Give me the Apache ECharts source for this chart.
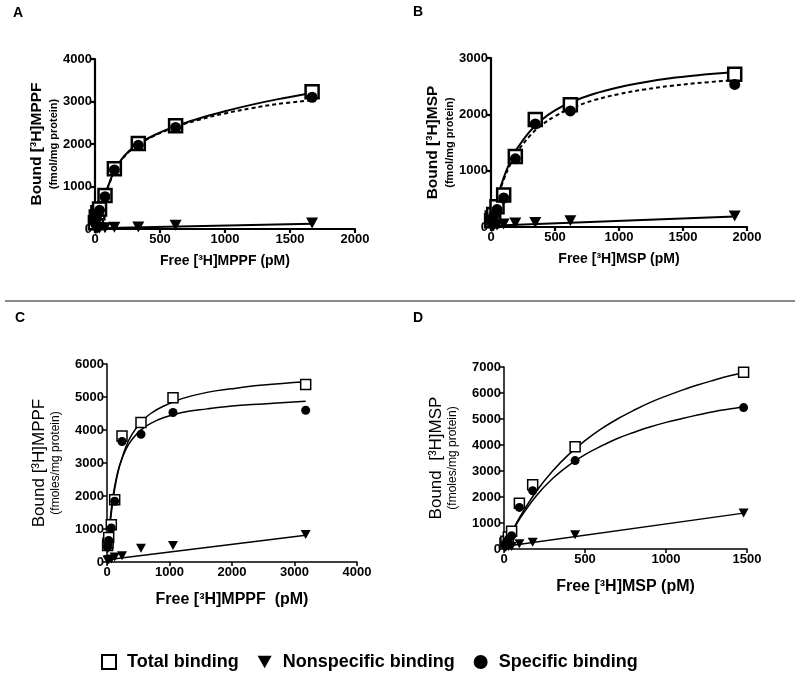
<!DOCTYPE html>
<html>
<head>
<meta charset="utf-8">
<script src="https://cdn.jsdelivr.net/npm/echarts@6/dist/echarts.min.js"></script>
<style>html,body{margin:0;padding:0;background:#fff}#c{width:800px;height:677px}</style>
</head>
<body>
<div id="c"></div>
<script>
// ---------- DATA ----------
// Panel A: [3H]MPPF (x: free pM, y: fmol/mg protein)
var aTotal = [[3,150],[10,280],[22,380],[35,470],[77,790],[149,1420],[333,2010],[620,2430],[1670,3230]];
var aSpecific = [[3,135],[10,260],[22,360],[35,440],[77,760],[149,1390],[333,1970],[620,2390],[1670,3100]];
var aNonspecific = [[3,10],[10,15],[22,20],[35,22],[77,30],[149,40],[333,50],[620,90],[1670,140]];
var aTotalFit = [[0,0],[10,180],[25,380],[50,620],[77,820],[110,1080],[150,1380],[200,1620],[260,1830],[333,2000],[450,2200],[620,2420],[800,2600],[1000,2770],[1200,2920],[1400,3050],[1670,3200]];
var aSpecificFit = [[0,0],[10,175],[25,370],[50,605],[77,805],[110,1065],[150,1365],[200,1605],[260,1815],[333,1985],[450,2185],[620,2400],[800,2570],[1000,2720],[1200,2840],[1400,2940],[1670,3030]];
var aNonspecificFit = [[0,20],[1670,125]];

// Panel B: [3H]MSP
var bTotal = [[5,110],[10,160],[21,220],[47,360],[99,570],[190,1250],[346,1910],[620,2170],[1904,2710]];
var bSpecific = [[5,95],[10,140],[21,200],[47,310],[99,515],[190,1210],[346,1830],[620,2060],[1904,2530]];
var bNonspecific = [[5,10],[10,15],[21,20],[47,35],[99,55],[190,70],[346,80],[620,110],[1904,195]];
var bTotalFit = [[0,0],[25,280],[50,520],[100,880],[150,1160],[200,1380],[300,1690],[400,1910],[500,2070],[620,2210],[800,2360],[1000,2480],[1200,2570],[1400,2640],[1600,2690],[1904,2750]];
var bSpecificFit = [[0,0],[25,268],[50,492],[100,843],[150,1106],[200,1311],[300,1609],[400,1815],[500,1967],[620,2102],[800,2248],[1000,2360],[1200,2442],[1400,2504],[1600,2552],[1904,2608]];
var bNonspecificFit = [[0,20],[1904,185]];

// Panel C: [3H]MPPF (fmoles/mg protein)
var cTotal = [[10,500],[16,575],[27,746],[69,1130],[123,1890],[240,3820],[544,4230],[1056,4980],[3179,5380]];
var cSpecific = [[10,450],[16,520],[27,655],[69,1030],[123,1840],[240,3650],[544,3870],[1056,4530],[3179,4600]];
var cNonspecific = [[10,50],[16,60],[27,70],[69,90],[123,150],[240,190],[544,420],[1056,500],[3179,830]];
var cTotalFit = [[10,280],[25,640],[50,1160],[100,1930],[150,2490],[200,2900],[300,3480],[400,3870],[550,4250],[700,4500],[900,4720],[1200,4950],[1600,5140],[2000,5250],[2500,5360],[3179,5460]];
var cSpecificFit = [[10,320],[25,730],[50,1275],[100,2040],[150,2550],[200,2915],[300,3400],[400,3710],[550,4010],[700,4200],[900,4370],[1200,4530],[1600,4640],[2000,4730],[2500,4790],[3179,4870]];
var cNonspecificFit = [[0,65],[3179,810]];

// Panel D: [3H]MSP (fmoles/mg protein)
var dTotal = [[6,230],[12,300],[27,460],[47,680],[95,1760],[177,2470],[439,3930],[1479,6800]];
var dSpecific = [[6,180],[12,230],[27,380],[47,510],[95,1600],[177,2240],[439,3400],[1479,5440]];
var dNonspecific = [[6,50],[12,77],[27,100],[47,100],[95,200],[177,255],[439,550],[1479,1380]];
var dTotalFit = [[0,0],[50,670],[100,1250],[200,2220],[300,3000],[400,3640],[500,4170],[600,4620],[700,5000],[800,5330],[900,5630],[1000,5880],[1100,6110],[1200,6320],[1300,6500],[1400,6670],[1479,6790]];
var dSpecificFit = [[0,0],[50,650],[100,1190],[200,2050],[300,2710],[400,3220],[500,3630],[600,3960],[700,4250],[800,4480],[900,4690],[1000,4870],[1100,5020],[1200,5160],[1300,5290],[1400,5390],[1479,5470]];
var dNonspecificFit = [[0,100],[1479,1380]];

// Axis ranges / tick steps
var xMax = [2000, 2000, 4000, 1500];
var xStep = [500, 500, 1000, 500];
var yMax = [4000, 3000, 6000, 7000];
var yStep = [1000, 1000, 1000, 1000];

var xNames = ['Free [³H]MPPF (pM)', 'Free [³H]MSP (pM)', 'Free [³H]MPPF  (pM)', 'Free [³H]MSP (pM)'];
var yMain = ['Bound [³H]MPPF', 'Bound [³H]MSP', 'Bound [³H]MPPF', 'Bound  [³H]MSP'];
var ySub = ['(fmol/mg protein)', '(fmol/mg protein)', '(fmoles/mg protein)', '(fmoles/mg protein)'];
var panelLetters = ['A', 'B', 'C', 'D'];
var legendNames = ['Total binding', 'Nonspecific binding', 'Specific binding'];

// ---------- LAYOUT ----------
var FONT = '"Liberation Sans", Arial, Helvetica, sans-serif';
var grids = [
  {left: 95, top: 59, width: 260, height: 170},
  {left: 491, top: 58, width: 256, height: 169},
  {left: 107, top: 364, width: 250, height: 198},
  {left: 504, top: 367, width: 243, height: 182}
];
var big = [false, false, true, true];
var triPath = 'path://M0,0 L10,0 L5,9 Z';
function plain(v) { return String(v); }

var xAxes = [], yAxes = [], series = [];
var panels = [
  [aTotal, aSpecific, aNonspecific, aTotalFit, aSpecificFit, aNonspecificFit],
  [bTotal, bSpecific, bNonspecific, bTotalFit, bSpecificFit, bNonspecificFit],
  [cTotal, cSpecific, cNonspecific, cTotalFit, cSpecificFit, cNonspecificFit],
  [dTotal, dSpecific, dNonspecific, dTotalFit, dSpecificFit, dNonspecificFit]
];

for (var i = 0; i < 4; i++) {
  var lw = big[i] ? 1.5 : 2.2;
  xAxes.push({
    gridIndex: i, type: 'value', min: 0, max: xMax[i], interval: xStep[i],
    axisLine: {onZero: false, lineStyle: {color: '#000', width: lw}},
    axisTick: {length: 4, lineStyle: {color: '#000', width: lw}},
    splitLine: {show: false},
    axisLabel: {color: '#000', fontFamily: FONT, fontWeight: 'bold', fontSize: 13, margin: 4, formatter: plain},
    name: xNames[i], nameLocation: 'middle', nameGap: big[i] ? 30 : 25,
    nameTextStyle: {color: '#000', fontFamily: FONT, fontWeight: 'bold', fontSize: big[i] ? 16 : 14}
  });
  yAxes.push({
    gridIndex: i, type: 'value', min: 0, max: yMax[i], interval: yStep[i],
    axisLine: {onZero: false, lineStyle: {color: '#000', width: lw}},
    axisTick: {length: 4, lineStyle: {color: '#000', width: lw}},
    splitLine: {show: false},
    axisLabel: {color: '#000', fontFamily: FONT, fontWeight: 'bold', fontSize: 13, margin: 3, formatter: plain},
    name: '{a|' + yMain[i] + '}\n{b|' + ySub[i] + '}',
    nameLocation: 'middle', nameRotate: 90, nameGap: big[i] ? 45 : 29,
    nameTextStyle: {
      color: '#000', fontFamily: FONT,
      rich: {
        a: {fontFamily: FONT, fontSize: big[i] ? 17 : 15.5, fontWeight: big[i] ? 'normal' : 'bold', color: '#000', lineHeight: big[i] ? 19 : 20},
        b: {fontFamily: FONT, fontSize: big[i] ? 12 : 11, fontWeight: big[i] ? 'normal' : 'bold', color: '#000', lineHeight: big[i] ? 13 : 14}
      }
    }
  });
  var p = panels[i];
  var dashed = (i < 2);
  var fitW = big[i] ? 1.5 : 2;
  series.push({type: 'line', name: 'fitTotal' + i, xAxisIndex: i, yAxisIndex: i, data: p[3], smooth: 0.4, showSymbol: false, silent: true,
    lineStyle: {color: '#000', width: fitW}, z: 2});
  series.push({type: 'line', name: 'fitSpec' + i, xAxisIndex: i, yAxisIndex: i, data: p[4], smooth: 0.4, showSymbol: false, silent: true,
    lineStyle: {color: '#000', width: fitW, type: dashed ? [4, 3] : 'solid'}, z: 2});
  series.push({type: 'line', name: 'fitNon' + i, xAxisIndex: i, yAxisIndex: i, data: p[5], showSymbol: false, silent: true,
    lineStyle: {color: '#000', width: fitW}, z: 2});
  var sq = big[i] ? 10 : 13, ci = big[i] ? 9 : 11, tr = big[i] ? [10, 9] : [12, 11];
  series.push({type: 'scatter', name: legendNames[0], xAxisIndex: i, yAxisIndex: i, data: p[0], symbol: 'rect', symbolSize: sq,
    itemStyle: {color: '#fff', borderColor: '#000', borderWidth: big[i] ? 1.5 : 2.5, opacity: 1}, z: 3});
  series.push({type: 'scatter', name: legendNames[1], xAxisIndex: i, yAxisIndex: i, data: p[2], symbol: triPath, symbolSize: tr,
    itemStyle: {color: '#000', opacity: 1}, z: 4});
  series.push({type: 'scatter', name: legendNames[2], xAxisIndex: i, yAxisIndex: i, data: p[1], symbol: 'circle', symbolSize: ci,
    itemStyle: {color: '#000', opacity: 1}, z: 5});
}

var graphics = [
  {type: 'line', shape: {x1: 5, y1: 301, x2: 795, y2: 301}, style: {stroke: '#8a8a8a', lineWidth: 2}},
  {type: 'text', left: 13, top: 6, style: {text: panelLetters[0], font: 'bold 14px ' + FONT, fill: '#000'}},
  {type: 'text', left: 413, top: 5, style: {text: panelLetters[1], font: 'bold 14px ' + FONT, fill: '#000'}},
  {type: 'text', left: 15, top: 311, style: {text: panelLetters[2], font: 'bold 14px ' + FONT, fill: '#000'}},
  {type: 'text', left: 413, top: 311, style: {text: panelLetters[3], font: 'bold 14px ' + FONT, fill: '#000'}}
];

var chart = echarts.init(document.getElementById('c'), null, {renderer: 'canvas'});
chart.setOption({
  animation: false,
  backgroundColor: '#fff',
  grid: grids,
  xAxis: xAxes,
  yAxis: yAxes,
  series: series,
  graphic: graphics,
  legend: {
    data: legendNames, left: 96, top: 648, itemWidth: 14, itemHeight: 14, itemGap: 19,
    selectedMode: false,
    textStyle: {color: '#000', fontFamily: FONT, fontWeight: 'bold', fontSize: 18, padding: [0, 0, 0, 6]}
  }
});
</script>
</body>
</html>
